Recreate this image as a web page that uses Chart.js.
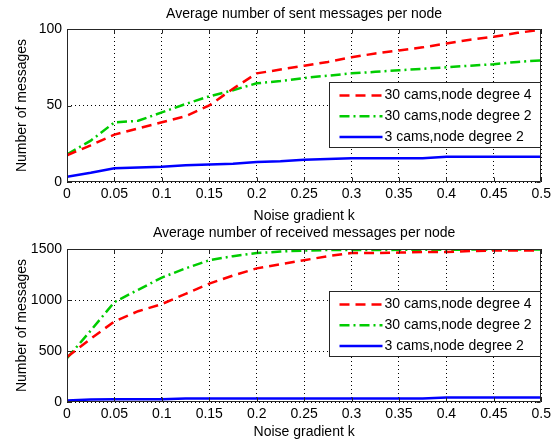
<!DOCTYPE html>
<html>
<head>
<meta charset="utf-8">
<script src="https://cdn.jsdelivr.net/npm/chart.js@4.4.1/dist/chart.umd.min.js"></script>
<style>
  body { margin: 0; background: #fff; width: 555px; height: 441px; position: relative; overflow: hidden; }
  .plot-box { position: absolute; left: 0; width: 555px; }
  #sentBox { top: 0; height: 232px; }
  #recvBox { top: 218px; height: 223px; }
</style>
</head>
<body>
<div class="plot-box" id="sentBox"><canvas id="chart-sent"></canvas></div>
<div class="plot-box" id="recvBox"><canvas id="chart-recv"></canvas></div>
<script>
// noise gradient k (x values)
const noiseK = [0, 0.025, 0.05, 0.075, 0.1, 0.125, 0.15, 0.175, 0.2, 0.225, 0.25,
                0.275, 0.3, 0.325, 0.35, 0.375, 0.4, 0.425, 0.45, 0.475, 0.5];

const seriesLabels = ['30 cams,node degree 4', '30 cams,node degree 2', '3 cams,node degree 2'];

// sent messages per node
const sentCam30Deg4 = [17.5, 24, 31, 35, 39, 43, 50, 61, 71, 73.5, 76, 78.5, 81.5, 84, 86, 88, 90.5, 93, 95, 97.5, 99.5];
const sentCam30Deg2 = [18, 27, 39, 40, 45.5, 51, 56, 60, 64.5, 66, 68, 69.5, 71, 72, 73, 74, 75, 76, 77, 78.5, 79.5];
const sentCam3Deg2  = [3.5, 6, 9, 9.5, 10, 11, 11.5, 12, 13, 13.5, 14.5, 15, 15.5, 15.5, 15.5, 15.5, 16.5, 16.5, 16.5, 16.5, 16.5];

// received messages per node
const recvCam30Deg4 = [440, 620, 790, 890, 960, 1060, 1160, 1240, 1310, 1350, 1390, 1430, 1460, 1460, 1465, 1470, 1470, 1480, 1485, 1485, 1485];
const recvCam30Deg2 = [430, 700, 980, 1100, 1220, 1310, 1390, 1430, 1460, 1475, 1485, 1490, 1490, 1490, 1492, 1492, 1493, 1494, 1494, 1495, 1495];
const recvCam3Deg2  = [15, 25, 28, 28, 28, 35, 35, 35, 35, 35, 35, 35, 35, 35, 35, 35, 45, 45, 45, 45, 45];

const sentTicks = [0, 50, 100];
const recvTicks = [0, 500, 1000, 1500];

const FONT = '"Liberation Sans", Arial, Helvetica, sans-serif';

// ─── Plugins: matlab style box with inward ticks + boxed legend ──────────────
const axesFrame = {
  id: 'axesFrame',
  afterDatasetsDraw(chart) {
    const { ctx, chartArea: a, scales: { x, y } } = chart;
    const L = Math.round(a.left) + 0.5, R = Math.round(a.right) - 0.5;
    const T = Math.round(a.top) + 0.5, B = Math.round(a.bottom) - 0.5;
    ctx.save();
    ctx.strokeStyle = '#262626';
    ctx.lineWidth = 1;
    ctx.beginPath();
    ctx.rect(L, T, R - L, B - T);
    x.ticks.forEach(t => {
      const px = Math.round(x.getPixelForValue(t.value)) + 0.5;
      ctx.moveTo(px, B); ctx.lineTo(px, B - 4);
      ctx.moveTo(px, T); ctx.lineTo(px, T + 4);
    });
    y.ticks.forEach(t => {
      const py = Math.round(y.getPixelForValue(t.value)) + 0.5;
      ctx.moveTo(L, py); ctx.lineTo(L + 4, py);
      ctx.moveTo(R, py); ctx.lineTo(R - 4, py);
    });
    ctx.stroke();
    ctx.restore();
  }
};

const boxLegend = {
  id: 'boxLegend',
  afterDatasetsDraw(chart, args, opts) {
    const { ctx, chartArea: a } = chart;
    const x = Math.round(a.right - opts.right - opts.width) + 0.5;
    const y = Math.round(a.top + opts.top) + 0.5;
    ctx.save();
    ctx.fillStyle = '#fff';
    ctx.fillRect(x, y, opts.width, opts.height);
    ctx.strokeStyle = '#262626';
    ctx.lineWidth = 1;
    ctx.strokeRect(x, y, opts.width, opts.height);
    ctx.font = '14px ' + FONT;
    ctx.textBaseline = 'middle';
    chart.data.datasets.forEach((ds, i) => {
      const ry = y + opts.rowTop + i * opts.rowGap;
      ctx.strokeStyle = ds.borderColor;
      ctx.lineWidth = ds.borderWidth;
      ctx.setLineDash(ds.borderDash || []);
      ctx.beginPath();
      ctx.moveTo(x + 10, ry);
      ctx.lineTo(x + 53, ry);
      ctx.stroke();
      ctx.setLineDash([]);
      ctx.fillStyle = '#000';
      ctx.fillText(ds.label, x + 55, ry);
    });
    ctx.restore();
  }
};

// ─── Helpers ──────────────────────────────────────────────────────────────────
function _points(values) {
  return noiseK.map((k, i) => ({ x: k, y: values[i] }));
}

function _datasets(deg4, deg2, small) {
  return [
    { label: seriesLabels[0], data: _points(deg4), borderColor: '#ff0000', borderWidth: 2.5, borderDash: [10, 6] },
    { label: seriesLabels[1], data: _points(deg2), borderColor: '#00cc00', borderWidth: 2.5, borderDash: [10, 4, 2, 4] },
    { label: seriesLabels[2], data: _points(small), borderColor: '#0000ff', borderWidth: 2.5 },
  ];
}

function _options({ title, yTicks, titlePad, xHeight, xTitlePad, legendTop }) {
  const tickFont = { size: 14, family: FONT };
  return {
    responsive: true,
    maintainAspectRatio: false,
    animation: false,
    layout: { padding: { left: 0, right: 10, top: 0, bottom: 0 } },
    elements: { point: { radius: 0 }, line: { tension: 0 } },
    plugins: {
      legend: { display: false },
      tooltip: { enabled: false },
      title: { display: true, fullSize: false, text: title, color: '#000',
               font: { size: 14, weight: 'normal', family: FONT }, padding: titlePad },
      boxLegend: { top: legendTop, right: 1.5, width: 211, height: 65, rowTop: 13, rowGap: 20.8 },
    },
    scales: {
      x: {
        type: 'linear', min: 0, max: 0.5,
        afterFit: s => { s.height = xHeight; },
        ticks: { stepSize: 0.05, padding: 4, color: '#000', font: tickFont, maxRotation: 0,
                 callback: v => String(+v.toFixed(2)) },
        grid: { color: '#000', lineWidth: 1, drawTicks: false },
        border: { display: false, dash: [1, 3] },
        title: { display: true, text: 'Noise gradient k', color: '#000', font: tickFont, padding: { top: 0, bottom: xTitlePad } },
      },
      y: {
        type: 'linear', min: yTicks[0], max: yTicks[yTicks.length - 1],
        afterFit: s => { s.width = 67; },
        afterBuildTicks: s => { s.ticks = yTicks.map(v => ({ value: v })); },
        ticks: { padding: 5, color: '#000', font: tickFont, callback: v => String(v) },
        grid: { color: '#000', lineWidth: 1, drawTicks: false },
        border: { display: false, dash: [1, 3] },
        title: { display: true, text: 'Number of messages', color: '#000', font: tickFont, padding: { top: 14, bottom: 0 } },
      },
    },
  };
}

new Chart(document.getElementById('chart-sent'), {
  type: 'line',
  data: { datasets: _datasets(sentCam30Deg4, sentCam30Deg2, sentCam3Deg2) },
  options: _options({
    title: 'Average number of sent messages per node',
    yTicks: sentTicks,
    titlePad: { top: 5.6, bottom: 6.6 },
    xHeight: 50, xTitlePad: 7, legendTop: 52.5,
  }),
  plugins: [axesFrame, boxLegend],
});

new Chart(document.getElementById('chart-recv'), {
  type: 'line',
  data: { datasets: _datasets(recvCam30Deg4, recvCam30Deg2, recvCam3Deg2) },
  options: _options({
    title: 'Average number of received messages per node',
    yTicks: recvTicks,
    titlePad: { top: 6.6, bottom: 7.6 },
    xHeight: 39, xTitlePad: 0.6, legendTop: 41.7,
  }),
  plugins: [axesFrame, boxLegend],
});
</script>
</body>
</html>
